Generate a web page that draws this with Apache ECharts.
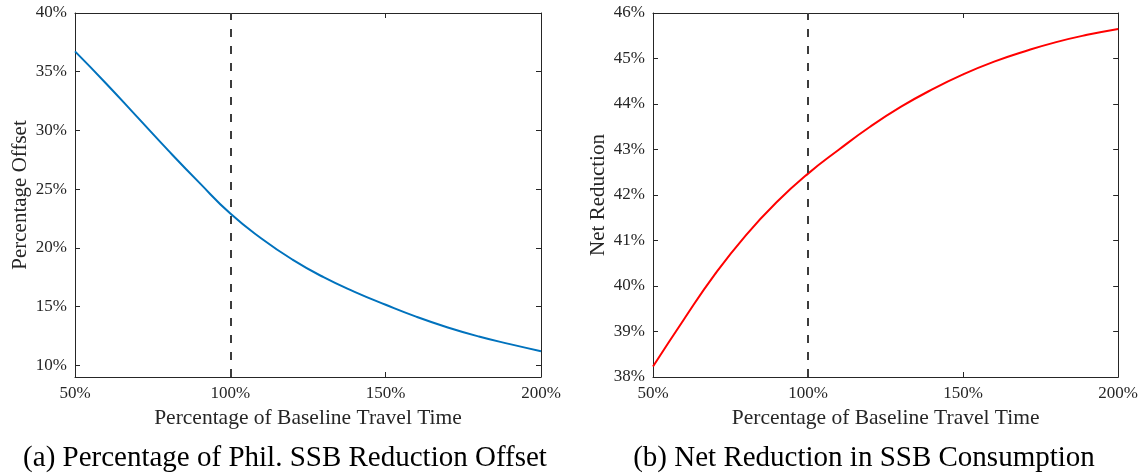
<!DOCTYPE html>
<html>
<head>
<meta charset="utf-8">
<title>SSB travel time</title>
<script src="https://cdn.jsdelivr.net/npm/echarts@6/dist/echarts.min.js"></script>
<style>
  html, body { margin: 0; padding: 0; background: #fff; }
  #chartmain { width: 1141px; height: 476px; }
</style>
</head>
<body>
<div id="chartmain"></div>
<script>
// x: percentage of baseline travel time
var travelTime = [50, 60, 70, 80, 90, 100, 110, 120, 130, 140, 150, 160, 170, 180, 190, 200];
// (a) percentage of phil. SSB reduction offset
var offsetPct = [36.73, 34.0, 31.15, 28.3, 25.55, 22.92, 20.8, 19.0, 17.5, 16.25, 15.15, 14.12, 13.22, 12.45, 11.8, 11.2];
// (b) net reduction in SSB consumption
var netReduction = [38.23, 39.27, 40.26, 41.12, 41.85, 42.47, 43.0, 43.5, 43.94, 44.32, 44.65, 44.93, 45.16, 45.36, 45.52, 45.65];
var refLine = 100; // baseline
var leftTicks = [10, 15, 20, 25, 30, 35, 40];
var captions = ['(a) Percentage of Phil. SSB Reduction Offset', '(b) Net Reduction in SSB Consumption'];

var FONT = 'Liberation Serif';
var INK = '#262626';

var chart = echarts.init(document.getElementById('chartmain'));

function pairs(xs, ys) {
    var out = [];
    for (var i = 0; i < xs.length; i++) out.push([xs[i], ys[i]]);
    return out;
}

function xAxisOf(grid, top) {
    return {
        type: 'value', gridIndex: grid, position: top ? 'top' : 'bottom',
        min: 50, max: 200, interval: 50,
        name: top ? '' : 'Percentage of Baseline Travel Time',
        nameLocation: 'middle', nameGap: 26,
        nameTextStyle: { fontFamily: FONT, fontSize: 21.5, color: INK },
        axisLine: { show: true, lineStyle: { color: INK, width: 1 } },
        axisTick: { show: true, inside: true, length: 5, lineStyle: { color: INK } },
        axisLabel: { show: !top, formatter: '{value}%', fontFamily: FONT, fontSize: 17, color: INK, margin: 8 },
        splitLine: { show: false }
    };
}

function yAxisOf(grid, right, opt) {
    var ax = {
        type: 'value', gridIndex: grid, position: right ? 'right' : 'left',
        min: opt.min, max: opt.max,
        name: right ? '' : opt.name,
        nameLocation: 'middle', nameGap: 44,
        nameTextStyle: { fontFamily: FONT, fontSize: 21, color: INK },
        axisLine: { show: true, lineStyle: { color: INK, width: 1 } },
        axisTick: { show: true, inside: true, length: 5, lineStyle: { color: INK } },
        axisLabel: { show: !right, formatter: '{value}%', fontFamily: FONT, fontSize: 17, color: INK, margin: 8 },
        splitLine: { show: false }
    };
    if (opt.ticks) {
        ax.axisTick.customValues = opt.ticks;
        ax.axisLabel.customValues = opt.ticks;
    } else {
        ax.interval = opt.interval;
    }
    return ax;
}

function curve(grid, data, color) {
    return {
        type: 'line', xAxisIndex: grid * 2, yAxisIndex: grid * 2,
        data: data, smooth: 0.5, showSymbol: false,
        lineStyle: { color: color, width: 2 },
        markLine: {
            silent: true, symbol: 'none', label: { show: false },
            lineStyle: { color: '#3c3c3c', width: 2, type: [8, 9] },
            data: [{ xAxis: refLine }]
        }
    };
}

chart.setOption({
    animation: false,
    grid: [
        { left: 75, top: 13, width: 466, height: 364 },
        { left: 653, top: 13, width: 466, height: 364 }
    ],
    xAxis: [xAxisOf(0, false), xAxisOf(0, true), xAxisOf(1, false), xAxisOf(1, true)],
    yAxis: [
        yAxisOf(0, false, { min: 9, max: 40, ticks: leftTicks, name: 'Percentage Offset' }),
        yAxisOf(0, true, { min: 9, max: 40, ticks: leftTicks }),
        yAxisOf(1, false, { min: 38, max: 46, interval: 1, name: 'Net Reduction' }),
        yAxisOf(1, true, { min: 38, max: 46, interval: 1 })
    ],
    series: [
        curve(0, pairs(travelTime, offsetPct), '#0072BD'),
        curve(1, pairs(travelTime, netReduction), '#FF0000')
    ],
    graphic: [
        { type: 'text', x: 285, y: 458, style: { text: captions[0], fontFamily: FONT, fontSize: 29, fill: '#000', align: 'center', verticalAlign: 'middle' } },
        { type: 'text', x: 864, y: 458, style: { text: captions[1], fontFamily: FONT, fontSize: 29, fill: '#000', align: 'center', verticalAlign: 'middle' } }
    ]
});
</script>
</body>
</html>
